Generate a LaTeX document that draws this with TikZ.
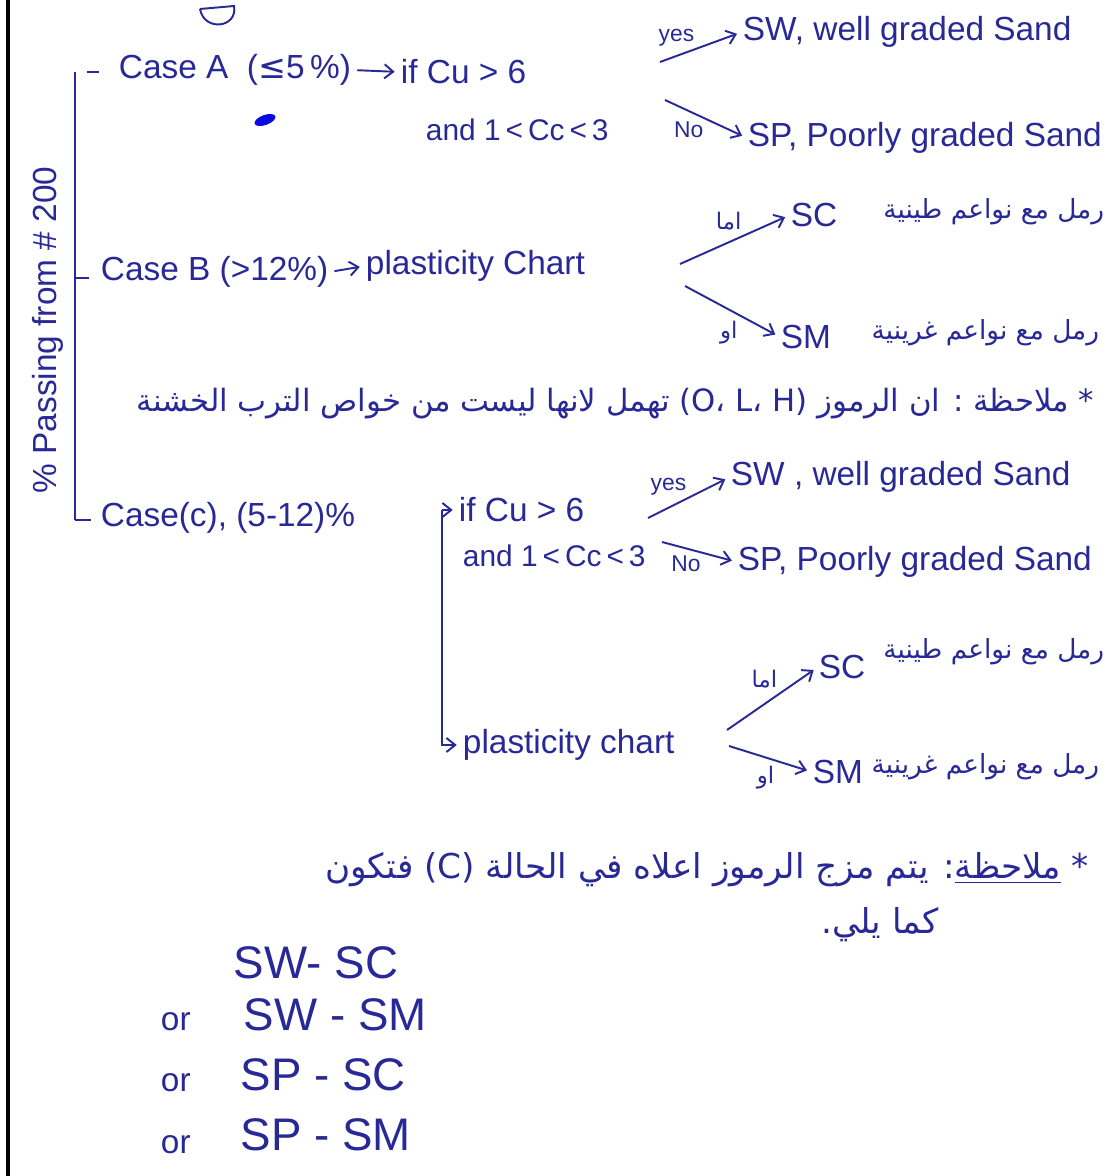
\documentclass[tikz,border=0pt]{standalone}
\usepackage{fontspec}
\setmainfont{Liberation Sans}
\newfontfamily\arabicfont[Script=Arabic]{DejaVu Sans}
\newfontfamily\dvsym{DejaVu Sans}
\TeXXeTstate=1
\usetikzlibrary{arrows.meta}
\definecolor{ink}{RGB}{40,40,150}

\begin{document}
\begin{tikzpicture}[x=0.02cm,y=-0.02cm,>={Straight Barb[length=5pt,width=8pt]},
  color=ink,text=ink,line width=1.1pt,
  txt/.style={anchor=west,inner sep=0pt,font=\fontsize{19}{22}\selectfont},
  small/.style={txt,font=\fontsize{17}{20}\selectfont},
  big/.style={anchor=west,inner sep=0pt,font=\fontsize{26}{30}\selectfont},
  ar/.style={anchor=east,inner sep=0pt,font={\arabicfont\fontsize{15}{18}\selectfont}},
  lbl/.style={inner sep=1pt,font=\fontsize{13}{15}\selectfont},
  arlbl/.style={inner sep=2pt,font={\arabicfont\fontsize{13}{16}\selectfont}},
  arr/.style={->,shorten >=3pt}]
\useasboundingbox (0,0) rectangle (1119,1176);
\draw[black,line width=2pt] (8,0) -- (8,1176);
% stray marks
\draw (200,9) -- (234,6) .. controls (238,28) and (204,32) .. (200,9);
\fill[blue!75!ink,rotate around={20:(265,120)}] (265,120) ellipse (11 and 5);

% bracket
\node[rotate=90,inner sep=0pt,font=\fontsize{19}{22}\selectfont] (pass) at (48,330) {\% Passing from \# 200};
\coordinate (bTop) at (75,72);
\coordinate (bMid) at (75,278);
\coordinate (bBot) at (75,520);
\draw (bTop) -- (bBot);
\draw (bTop) ++(12,0) -- ++(12,0);
\draw (bMid) -- ++(14,0);
\draw (bBot) -- ++(16,0);

% case A
\node[txt] (caseA) at (118,70) {Case A \ ({\dvsym ≤}5\,\%)};
\node[txt] (ifA) at (400,72) {if Cu > 6};
\node[small] (andA) at (425,130) {and 1\,<\,Cc\,<\,3};
\node[txt] (swA) at (742,32) {SW, well graded Sand};
\node[txt] (spA) at (747,138) {SP, Poorly graded Sand};
\draw[arr,shorten <=3pt] (caseA.east) -- (ifA.west);
\coordinate (yA) at (660,62);
\coordinate (nA) at (665,100);
\draw[arr] (yA) -- node[lbl,above left,pos=0.45]{yes} (swA.west);
\draw[arr] (nA) -- node[lbl,below left,pos=0.5]{No} (spA.west);

% case B
\node[txt] (caseB) at (100,272) {Case B (>12\%)};
\node[txt] (plasB) at (365,266) {plasticity Chart};
\draw[arr,shorten <=3pt] (caseB.east) -- (plasB.west);
\node[txt] (scB) at (790,215) {SC};
\node[ar] (arB1) at (1105,212) {\beginR رمل مع نواعم طينية\endR};
\node[txt] (smB) at (780,337) {SM};
\node[ar] (arB2) at (1100,333) {\beginR رمل مع نواعم غرينية\endR};
\coordinate (fBu) at (680,264);
\coordinate (fBd) at (685,286);
\draw[arr] (fBu) -- node[arlbl,above left,pos=0.6]{\beginR اما\endR} (scB.west);
\draw[arr] (fBd) -- node[arlbl,below left,pos=0.6]{\beginR او\endR} (smB.west);

\node[ar,font={\arabicfont\fontsize{17.5}{20}\selectfont}] (note1) at (1095,404)
  {\beginR * ملاحظة : ان الرموز \beginL(O، L، H)\endL{} تهمل لانها ليست من خواص الترب الخشنة\endR};

% case C
\node[txt] (caseC) at (100,518) {Case(c), (5-12)\%};
\node[txt] (ifC) at (458,510) {if Cu > 6};
\node[small] (andC) at (462,556) {and 1\,<\,Cc\,<\,3};
\node[txt] (plasC) at (462,745) {plasticity chart};
\coordinate (brT) at (442,510);
\draw[arr] (brT) -- (ifC.west);
\draw[arr] (brT) |- (plasC.west);
\node[txt] (swC) at (730,477) {SW , well graded Sand};
\node[txt] (spC) at (737,562) {SP, Poorly graded Sand};
\coordinate (yC) at (648,518);
\coordinate (nC) at (662,542);
\draw[arr] (yC) -- node[lbl,above left,pos=0.5]{yes} (swC.west);
\draw[arr] (nC) -- node[lbl,below left,pos=0.55]{No} (spC.west);
\node[txt] (scC) at (818,667) {SC};
\node[ar] (arC1) at (1105,652) {\beginR رمل مع نواعم طينية\endR};
\node[txt] (smC) at (812,772) {SM};
\node[ar] (arC2) at (1100,767) {\beginR رمل مع نواعم غرينية\endR};
\coordinate (fCu) at (727,730);
\coordinate (fCd) at (729,746);
\draw[arr] (fCu) -- node[arlbl,above left,pos=0.6]{\beginR اما\endR} (scC.west);
\draw[arr] (fCd) -- node[arlbl,below left,pos=0.6]{\beginR او\endR} (smC.west);

% note and combined symbols
\node[ar,font={\arabicfont\fontsize{19.5}{22}\selectfont}] (note2) at (1090,870)
  {\beginR * \underline{ملاحظة}: يتم مزج الرموز اعلاه في الحالة \beginL(C)\endL{} فتكون\endR};
\node[ar,anchor=center,font={\arabicfont\fontsize{19.5}{22}\selectfont}] (note3) at (880,925)
  {\beginR كما يلي.\endR};
\node[big] (mixA) at (233,963) {SW- SC};
\node[txt] (orB) at (160,1022) {or};
\node[big] (mixB) at (243,1015) {SW - SM};
\node[txt] (orC) at (160,1083) {or};
\node[big] (mixC) at (240,1075) {SP - SC};
\node[txt] (orD) at (160,1145) {or};
\node[big] (mixD) at (240,1135) {SP - SM};
\end{tikzpicture}
\end{document}
